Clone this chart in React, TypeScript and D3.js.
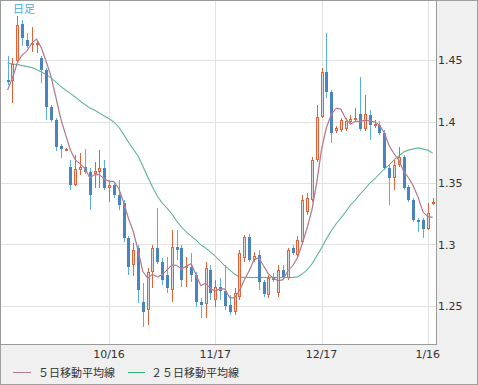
import * as d3 from "d3";

// daily candles, index 0 = first visible day
const open = [1.4337,1.4329,1.4492,1.4793,1.4663,1.4622,1.4630,1.4516,1.4419,1.4118,
  1.4012,1.3801,1.3768,1.3630,1.3484,1.3606,1.3630,1.3589,1.3573,1.3589,
  1.3622,1.3459,1.3484,1.3402,1.3337,1.3053,1.2833,1.2972,1.2532,1.2467,
  1.2776,1.2972,1.2858,1.2752,1.2630,1.2980,1.2972,1.2809,1.2817,1.2752,
  1.2532,1.2516,1.2793,1.2549,1.2654,1.2622,1.2508,1.2451,1.2573,1.2890,
  1.3061,1.2874,1.2915,1.2695,1.2589,1.2736,1.2606,1.2793,1.2728,1.2972,
  1.2915,1.3020,1.3264,1.3362,1.3687,1.4037,1.4402,1.4240,1.3923,1.3931,
  1.3939,1.3996,1.4012,1.4061,1.3939,1.4053,1.3963,1.3972,1.3907,1.3622,
  1.3541,1.3646,1.3711,1.3467,1.3362,1.3199,1.3199,1.3126,1.3329];
const high = [1.4533,1.4516,1.4858,1.4825,1.4720,1.4768,1.4663,1.4533,1.4435,1.4134,
  1.4028,1.3817,1.3785,1.3687,1.3728,1.3744,1.3776,1.3622,1.3671,1.3768,
  1.3687,1.3524,1.3508,1.3524,1.3362,1.3069,1.3012,1.2996,1.2687,1.2809,
  1.2996,1.3297,1.2890,1.2898,1.3118,1.3118,1.2996,1.2898,1.2931,1.2776,
  1.2565,1.2858,1.2833,1.2711,1.2728,1.2833,1.2589,1.2646,1.2955,1.3077,
  1.3085,1.2939,1.2955,1.2711,1.2752,1.2768,1.2833,1.2833,1.2972,1.2996,
  1.3069,1.3402,1.3419,1.3711,1.4134,1.4435,1.4720,1.4256,1.3963,1.4028,
  1.4028,1.4053,1.4110,1.4362,1.4215,1.4093,1.4012,1.4004,1.3931,1.3646,
  1.3687,1.3793,1.3728,1.3484,1.3378,1.3215,1.3215,1.3337,1.3378];
const low = [1.4297,1.4150,1.4484,1.4614,1.4598,1.4565,1.4557,1.4313,1.4012,1.3996,
  1.3760,1.3703,1.3760,1.3443,1.3476,1.3565,1.3573,1.3281,1.3459,1.3459,
  1.3443,1.3346,1.3378,1.3281,1.3020,1.2752,1.2744,1.2524,1.2329,1.2345,
  1.2646,1.2841,1.2671,1.2606,1.2532,1.2874,1.2654,1.2654,1.2695,1.2492,
  1.2402,1.2402,1.2549,1.2492,1.2549,1.2467,1.2427,1.2427,1.2549,1.2858,
  1.2858,1.2858,1.2630,1.2573,1.2565,1.2695,1.2573,1.2711,1.2711,1.2915,
  1.2898,1.2996,1.3240,1.3346,1.3671,1.4028,1.4191,1.3825,1.3907,1.3915,
  1.3923,1.3980,1.3996,1.3923,1.3923,1.3850,1.3947,1.3890,1.3606,1.3321,
  1.3443,1.3630,1.3443,1.3346,1.3183,1.3102,1.3053,1.3118,1.3321];
const close = [1.4321,1.4467,1.4785,1.4679,1.4614,1.4638,1.4638,1.4419,1.4118,1.4012,
  1.3793,1.3776,1.3776,1.3484,1.3614,1.3630,1.3589,1.3402,1.3598,1.3622,
  1.3459,1.3484,1.3402,1.3321,1.3053,1.2817,1.2955,1.2630,1.2451,1.2776,
  1.2972,1.2858,1.2711,1.2646,1.2980,1.2955,1.2711,1.2825,1.2752,1.2532,
  1.2508,1.2809,1.2606,1.2654,1.2622,1.2500,1.2451,1.2606,1.2931,1.3061,
  1.2874,1.2906,1.2695,1.2598,1.2728,1.2711,1.2793,1.2736,1.2955,1.2931,
  1.3037,1.3362,1.3378,1.3687,1.4037,1.4402,1.4240,1.3907,1.3947,1.4012,
  1.4004,1.4020,1.4028,1.3939,1.4061,1.3972,1.3980,1.3907,1.3622,1.3541,
  1.3646,1.3711,1.3459,1.3362,1.3199,1.3183,1.3126,1.3256,1.3346];
// closes of the 4 days before the first candle (for the 5 day average)
const prevCloses = [1.3980, 1.4175, 1.4354, 1.4451];
// 25 day average as drawn
const ma25 = [1.4476,1.4467,1.4463,1.4455,1.4447,1.4439,1.4423,1.4402,1.4382,1.4354,
  1.4321,1.4285,1.4256,1.4228,1.4199,1.4167,1.4138,1.4110,1.4093,1.4069,
  1.4045,1.4024,1.3996,1.3955,1.3898,1.3833,1.3776,1.3720,1.3638,1.3549,
  1.3467,1.3394,1.3337,1.3297,1.3248,1.3191,1.3142,1.3102,1.3069,1.3037,
  1.2996,1.2972,1.2939,1.2906,1.2866,1.2825,1.2793,1.2760,1.2736,1.2732,
  1.2732,1.2732,1.2732,1.2732,1.2732,1.2732,1.2732,1.2732,1.2732,1.2732,
  1.2736,1.2760,1.2793,1.2841,1.2906,1.2972,1.3045,1.3110,1.3167,1.3215,
  1.3264,1.3321,1.3362,1.3411,1.3451,1.3500,1.3533,1.3573,1.3614,1.3646,
  1.3687,1.3720,1.3752,1.3768,1.3776,1.3785,1.3776,1.3768,1.3744];

const tickIdx = [21, 43, 65, 87];
const tickLabels = ["10/16", "11/17", "12/17", "1/16"];
const yTicks = [1.25, 1.3, 1.35, 1.4, 1.45];
const legendLabels = ["５日移動平均線", "２５日移動平均線"];

const W = 478, H = 385;
const plot = { l: 1, t: 1, r: 436, b: 344 };
const UP = "#e0633a", DOWN = "#4a84be", DOWN_WICK = "#5aaee2";
const MA5_C = "#b05a7c", MA25_C = "#36b07a";
const FONT = "'DejaVu Sans', Verdana, sans-serif";
const JP = "'Noto Sans CJK JP', sans-serif";

const App = () => {
  const x = d3.scaleLinear().domain([0, close.length - 1]).range([7.6, 432.6]);
  const y = d3.scaleLinear().domain([1.25, 1.45]).range([306, 60]);

  const all = prevCloses.concat(close);
  const ma5 = close.map((_, i) => d3.mean(all.slice(i, i + 5)) as number);

  const line = d3.line<number>().x((_, i) => x(i)).y((d) => y(d));

  return (
    <svg width={W} height={H} style={{ position: "absolute", left: 0, top: 0, background: "#f0f0f0" }}>
      <defs>
        <clipPath id="plotclip">
          <rect x={plot.l} y={plot.t} width={plot.r - plot.l} height={plot.b - plot.t} />
        </clipPath>
      </defs>
      <rect x={0.5} y={0.5} width={W - 1} height={H - 1} fill="#f0f0f0" stroke="#a0a0a0" />
      <rect x={plot.l} y={plot.t} width={plot.r - plot.l} height={plot.b - plot.t} fill="#fff" />

      {/* grid */}
      <g stroke="#e2e2e2" strokeWidth={1}>
        {yTicks.map((v) => (
          <line key={v} x1={plot.l} x2={plot.r} y1={Math.round(y(v)) + 0.5} y2={Math.round(y(v)) + 0.5} />
        ))}
        {tickIdx.map((t) => (
          <line key={t} y1={plot.t} y2={plot.b} x1={Math.round(x(t)) + 0.5} x2={Math.round(x(t)) + 0.5} />
        ))}
      </g>

      <g clipPath="url(#plotclip)">
        <path d={line(ma25) || ""} fill="none" stroke="#d8dfdb" strokeWidth={1.6} opacity={0.7} />
        <path d={line(ma25) || ""} fill="none" stroke={MA25_C} strokeWidth={0.9} />

        {close.map((c, i) => {
          const o = open[i];
          const up = c >= o;
          const px = Math.round(x(i));
          const top = Math.round(y(Math.max(o, c)));
          const bot = Math.max(Math.round(y(Math.min(o, c))), top + 1);
          const hy = Math.round(y(high[i]));
          const ly = Math.round(y(low[i]));
          if (up) {
            return (
              <g key={i}>
                <line x1={px + 0.5} x2={px + 0.5} y1={hy} y2={ly} stroke={UP} />
                <rect x={px - 0.5} y={top + 0.5} width={2} height={Math.max(bot - top - 1, 1)} fill="#dadada" stroke={UP} />
              </g>
            );
          }
          return (
            <g key={i}>
              <line x1={px + 0.5} x2={px + 0.5} y1={hy} y2={ly} stroke={DOWN_WICK} />
              <rect x={px - 1} y={top} width={3} height={bot - top} fill={DOWN} />
            </g>
          );
        })}

        <path d={line(ma5) || ""} fill="none" stroke="#c8c8c8" strokeWidth={1.6} opacity={0.6} />
        <path d={line(ma5) || ""} fill="none" stroke={MA5_C} strokeWidth={0.9} />
      </g>

      <rect x={plot.l - 0.5} y={plot.t - 0.5} width={plot.r - plot.l + 1} height={plot.b - plot.t + 1} fill="none" stroke="#9a9a9a" />

      <text x={13} y={13} fontFamily={JP} fontSize={11} fill="#4aa6e6">日足</text>

      {/* axis labels */}
      <g fontFamily={FONT} fontSize={11} fill="#333">
        {yTicks.map((v) => (
          <text key={v} x={438} y={y(v) + 4}>{d3.format("")(v)}</text>
        ))}
        {tickIdx.map((t, k) => (
          <text key={t} x={x(t)} y={358} textAnchor="middle">{tickLabels[k]}</text>
        ))}
      </g>

      {/* legend */}
      <g fontFamily={JP} fontSize={11} fill="#333">
        <line x1={13} x2={31} y1={372.5} y2={372.5} stroke={MA5_C} opacity={0.8} />
        <text x={38} y={377}>{legendLabels[0]}</text>
        <line x1={128} x2={145} y1={372.5} y2={372.5} stroke={MA25_C} />
        <text x={151} y={377}>{legendLabels[1]}</text>
      </g>
    </svg>
  );
};

export default App;
